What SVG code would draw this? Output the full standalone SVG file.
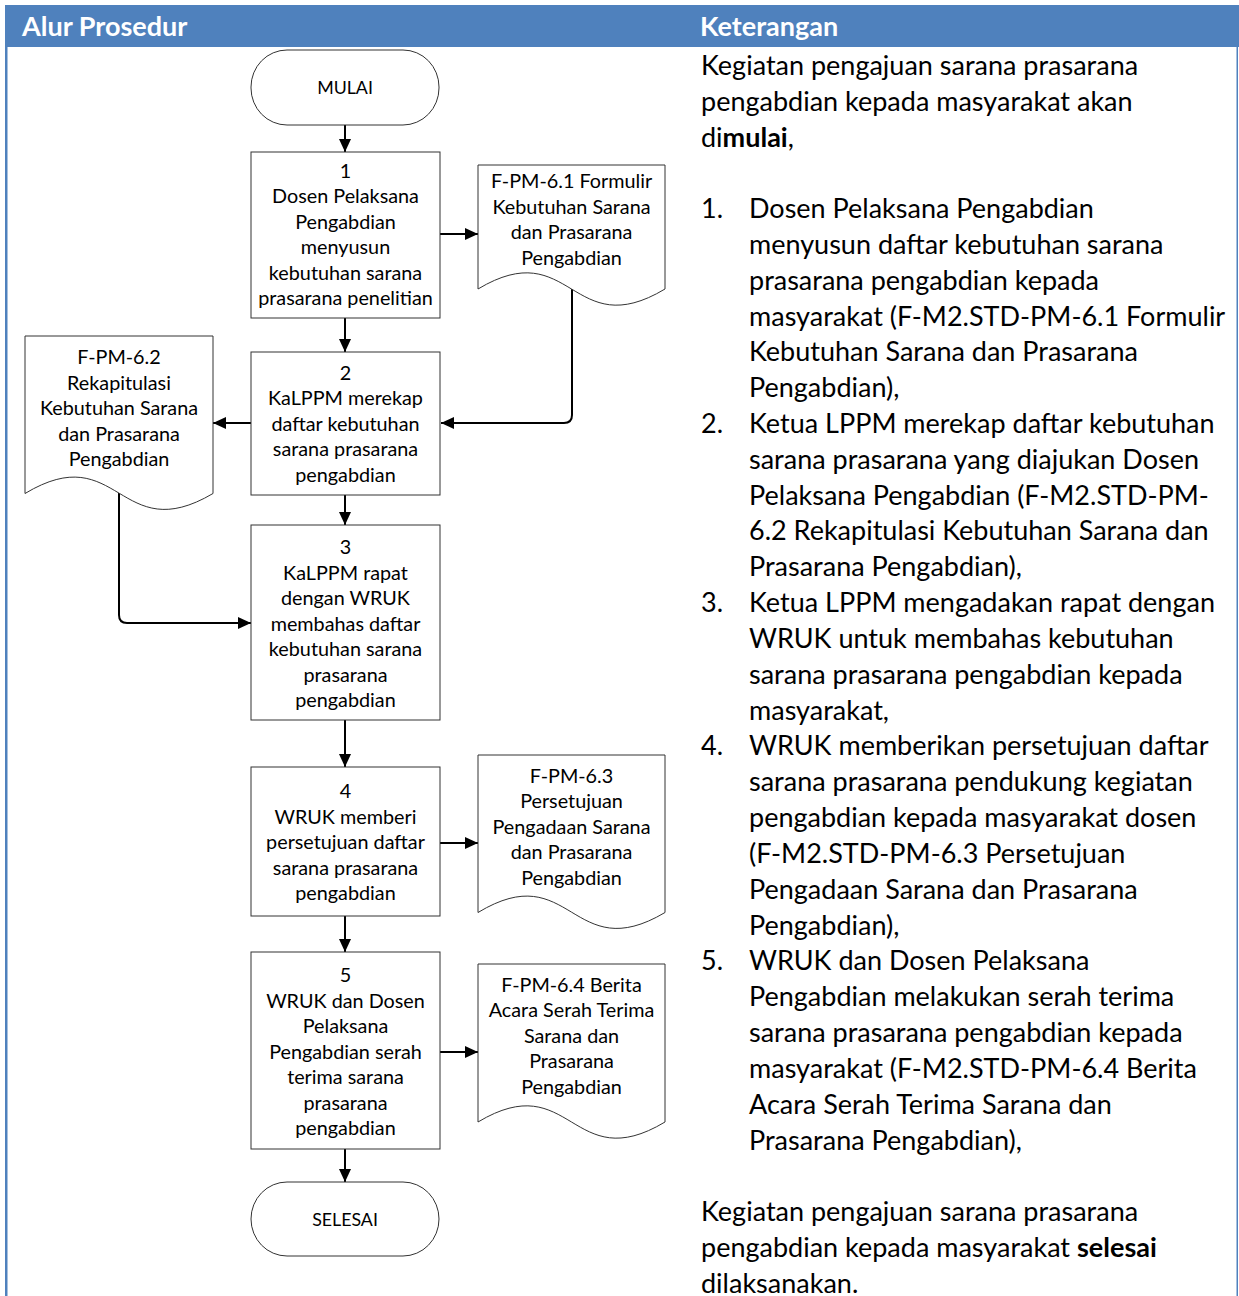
<svg xmlns="http://www.w3.org/2000/svg" width="1239" height="1296" viewBox="0 0 1239 1296">
<defs>
<style>
.hdr{font-family:Lato,"Liberation Sans",sans-serif;font-weight:bold;font-size:27px;fill:#fff}
.fc{font-family:Lato,"Liberation Sans",sans-serif;font-size:19.8px;fill:#000;text-anchor:middle}
.term{font-family:Lato,"Liberation Sans",sans-serif;font-size:17.8px;fill:#000;text-anchor:middle}
.rt{font-family:Lato,"Liberation Sans",sans-serif;font-size:27px;fill:#000}
.shape{fill:#fff;stroke:#333;stroke-width:1}
.conn{fill:none;stroke:#000;stroke-width:2}
</style>
<marker id="arr" markerUnits="userSpaceOnUse" markerWidth="14" markerHeight="14" viewBox="0 0 14 14" refX="13" refY="7" orient="auto">
<path d="M0,1 L13,7 L0,13 Z" fill="#000"/>
</marker>
</defs>
<rect x="0" y="0" width="1239" height="1296" fill="#fff"/>
<!-- header and frame -->
<rect x="5" y="5" width="1234" height="42" fill="#4F81BD"/>
<rect x="5" y="47" width="2.5" height="1249" fill="#4F81BD"/>
<rect x="1236.5" y="47" width="1.5" height="1249" fill="#4F81BD"/>
<text class="hdr" x="22" y="35.5">Alur Prosedur</text>
<text class="hdr" x="700" y="35.5">Keterangan</text>

<g id="connectors">
<line class="conn" x1="345" y1="125" x2="345" y2="152" marker-end="url(#arr)"/>
<line class="conn" x1="440" y1="234" x2="478" y2="234" marker-end="url(#arr)"/>
<line class="conn" x1="345" y1="318" x2="345" y2="352" marker-end="url(#arr)"/>
<path class="conn" d="M572,289 L572,415 Q572,423 564,423 L441,423" marker-end="url(#arr)"/>
<line class="conn" x1="251" y1="423" x2="213" y2="423" marker-end="url(#arr)"/>
<line class="conn" x1="345" y1="495" x2="345" y2="525" marker-end="url(#arr)"/>
<path class="conn" d="M119,493 L119,615 Q119,623 127,623 L251,623" marker-end="url(#arr)"/>
<line class="conn" x1="345" y1="720" x2="345" y2="767" marker-end="url(#arr)"/>
<line class="conn" x1="440" y1="843" x2="478" y2="843" marker-end="url(#arr)"/>
<line class="conn" x1="345" y1="916" x2="345" y2="952" marker-end="url(#arr)"/>
<line class="conn" x1="440" y1="1052" x2="478" y2="1052" marker-end="url(#arr)"/>
<line class="conn" x1="345" y1="1149" x2="345" y2="1182" marker-end="url(#arr)"/>
</g>

<g id="mulai">
<rect class="shape" x="251" y="50" width="188" height="75" rx="36" ry="37"/>
<text class="term" x="345" y="93.5">MULAI</text>
</g>

<g id="step1">
<rect class="shape" x="251" y="152" width="189" height="166"/>
<text class="fc" x="345.5"><tspan x="345.5" y="177.5">1</tspan><tspan x="345.5" y="203">Dosen Pelaksana</tspan><tspan x="345.5" y="228.5">Pengabdian</tspan><tspan x="345.5" y="254">menyusun</tspan><tspan x="345.5" y="279.5">kebutuhan sarana</tspan><tspan x="345.5" y="305">prasarana penelitian</tspan></text>
</g>

<g id="doc61">
<path class="shape" d="M478,165 L665,165 L665,289 C571.5,345 571.5,233 478,289 Z"/>
<text class="fc" x="571.5"><tspan x="571.5" y="187.5">F-PM-6.1 Formulir</tspan><tspan x="571.5" y="213.5">Kebutuhan Sarana</tspan><tspan x="571.5" y="238.5">dan Prasarana</tspan><tspan x="571.5" y="264.5">Pengabdian</tspan></text>
</g>

<g id="step2">
<rect class="shape" x="251" y="352" width="189" height="143"/>
<text class="fc" x="345.5"><tspan x="345.5" y="379.5">2</tspan><tspan x="345.5" y="405">KaLPPM merekap</tspan><tspan x="345.5" y="430.5">daftar kebutuhan</tspan><tspan x="345.5" y="456">sarana prasarana</tspan><tspan x="345.5" y="481.5">pengabdian</tspan></text>
</g>

<g id="doc62">
<path class="shape" d="M25,336 L213,336 L213,493.5 C119,549 119,437 25,493.5 Z"/>
<text class="fc" x="119"><tspan x="119" y="363.5">F-PM-6.2</tspan><tspan x="119" y="389.5">Rekapitulasi</tspan><tspan x="119" y="414.5">Kebutuhan Sarana</tspan><tspan x="119" y="440.5">dan Prasarana</tspan><tspan x="119" y="465.5">Pengabdian</tspan></text>
</g>

<g id="step3">
<rect class="shape" x="251" y="525" width="189" height="195"/>
<text class="fc" x="345.5"><tspan x="345.5" y="553.5">3</tspan><tspan x="345.5" y="579.5">KaLPPM rapat</tspan><tspan x="345.5" y="604.5">dengan WRUK</tspan><tspan x="345.5" y="630.5">membahas daftar</tspan><tspan x="345.5" y="655.5">kebutuhan sarana</tspan><tspan x="345.5" y="681.5">prasarana</tspan><tspan x="345.5" y="706.5">pengabdian</tspan></text>
</g>

<g id="step4">
<rect class="shape" x="251" y="767" width="189" height="149"/>
<text class="fc" x="345.5"><tspan x="345.5" y="797.5">4</tspan><tspan x="345.5" y="823.5">WRUK memberi</tspan><tspan x="345.5" y="848.5">persetujuan daftar</tspan><tspan x="345.5" y="874.5">sarana prasarana</tspan><tspan x="345.5" y="899.5">pengabdian</tspan></text>
</g>

<g id="doc63">
<path class="shape" d="M478,755 L665,755 L665,912.5 C571.5,968 571.5,856 478,912.5 Z"/>
<text class="fc" x="571.5"><tspan x="571.5" y="782.5">F-PM-6.3</tspan><tspan x="571.5" y="807.5">Persetujuan</tspan><tspan x="571.5" y="833.5">Pengadaan Sarana</tspan><tspan x="571.5" y="858.5">dan Prasarana</tspan><tspan x="571.5" y="884.5">Pengabdian</tspan></text>
</g>

<g id="step5">
<rect class="shape" x="251" y="952" width="189" height="197"/>
<text class="fc" x="345.5"><tspan x="345.5" y="981.5">5</tspan><tspan x="345.5" y="1007.5">WRUK dan Dosen</tspan><tspan x="345.5" y="1032.5">Pelaksana</tspan><tspan x="345.5" y="1058.5">Pengabdian serah</tspan><tspan x="345.5" y="1083.5">terima sarana</tspan><tspan x="345.5" y="1109.5">prasarana</tspan><tspan x="345.5" y="1134.5">pengabdian</tspan></text>
</g>

<g id="doc64">
<path class="shape" d="M478,964 L665,964 L665,1122 C571.5,1178 571.5,1066 478,1122 Z"/>
<text class="fc" x="571.5"><tspan x="571.5" y="991.5">F-PM-6.4 Berita</tspan><tspan x="571.5" y="1016.5">Acara Serah Terima</tspan><tspan x="571.5" y="1042.5">Sarana dan</tspan><tspan x="571.5" y="1067.5">Prasarana</tspan><tspan x="571.5" y="1093.5">Pengabdian</tspan></text>
</g>

<g id="selesai">
<rect class="shape" x="251" y="1182" width="188" height="74" rx="36" ry="37"/>
<text class="term" x="345" y="1225.5">SELESAI</text>
</g>

<g id="keterangan">
<text class="rt" x="701" y="74.5">Kegiatan pengajuan sarana prasarana</text>
<text class="rt" x="701" y="110.5">pengabdian kepada masyarakat akan</text>
<text class="rt" x="701" y="146.5">di<tspan font-weight="bold">mulai</tspan>,</text>
<text class="rt" x="701" y="217.5">1.</text>
<text class="rt" x="749" y="217.5">Dosen Pelaksana Pengabdian</text>
<text class="rt" x="749" y="253.5">menyusun daftar kebutuhan sarana</text>
<text class="rt" x="749" y="289.5">prasarana pengabdian kepada</text>
<text class="rt" x="749" y="325.5">masyarakat (F-M2.STD-PM-6.1 Formulir</text>
<text class="rt" x="749" y="360.5">Kebutuhan Sarana dan Prasarana</text>
<text class="rt" x="749" y="396.5">Pengabdian),</text>
<text class="rt" x="701" y="432.5">2.</text>
<text class="rt" x="749" y="432.5">Ketua LPPM merekap daftar kebutuhan</text>
<text class="rt" x="749" y="468.5">sarana prasarana yang diajukan Dosen</text>
<text class="rt" x="749" y="504.5">Pelaksana Pengabdian (F-M2.STD-PM-</text>
<text class="rt" x="749" y="539.5">6.2 Rekapitulasi Kebutuhan Sarana dan</text>
<text class="rt" x="749" y="575.5">Prasarana Pengabdian),</text>
<text class="rt" x="701" y="611.5">3.</text>
<text class="rt" x="749" y="611.5">Ketua LPPM mengadakan rapat dengan</text>
<text class="rt" x="749" y="647.5">WRUK untuk membahas kebutuhan</text>
<text class="rt" x="749" y="683.5">sarana prasarana pengabdian kepada</text>
<text class="rt" x="749" y="719.5">masyarakat,</text>
<text class="rt" x="701" y="754.5">4.</text>
<text class="rt" x="749" y="754.5">WRUK memberikan persetujuan daftar</text>
<text class="rt" x="749" y="790.5">sarana prasarana pendukung kegiatan</text>
<text class="rt" x="749" y="826.5">pengabdian kepada masyarakat dosen</text>
<text class="rt" x="749" y="862.5">(F-M2.STD-PM-6.3 Persetujuan</text>
<text class="rt" x="749" y="898.5">Pengadaan Sarana dan Prasarana</text>
<text class="rt" x="749" y="934.5">Pengabdian),</text>
<text class="rt" x="701" y="969.5">5.</text>
<text class="rt" x="749" y="969.5">WRUK dan Dosen Pelaksana</text>
<text class="rt" x="749" y="1005.5">Pengabdian melakukan serah terima</text>
<text class="rt" x="749" y="1041.5">sarana prasarana pengabdian kepada</text>
<text class="rt" x="749" y="1077.5">masyarakat (F-M2.STD-PM-6.4 Berita</text>
<text class="rt" x="749" y="1113.5">Acara Serah Terima Sarana dan</text>
<text class="rt" x="749" y="1149.5">Prasarana Pengabdian),</text>
<text class="rt" x="701" y="1220.5">Kegiatan pengajuan sarana prasarana</text>
<text class="rt" x="701" y="1256.5">pengabdian kepada masyarakat <tspan font-weight="bold">selesai</tspan></text>
<text class="rt" x="701" y="1292.5">dilaksanakan.</text>
</g>
</svg>
